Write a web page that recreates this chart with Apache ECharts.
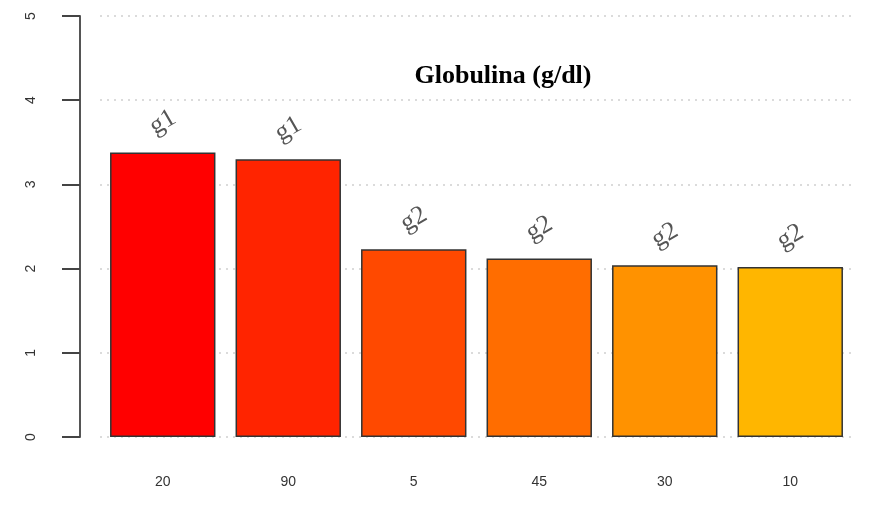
<!DOCTYPE html>
<html>
<head>
<meta charset="utf-8">
<script src="https://cdn.jsdelivr.net/npm/echarts@6/dist/echarts.min.js"></script>
<style>html,body{margin:0;padding:0;background:#fff}#c{width:878px;height:511px}</style>
</head>
<body>
<div id="c"></div>
<script>
var categories = ['20', '90', '5', '45', '30', '10'];
var values = [3.38, 3.30, 2.23, 2.12, 2.04, 2.02];
var groups = ['g1', 'g1', 'g2', 'g2', 'g2', 'g2'];
var barColors = ['#FF0000', '#FF2400', '#FF4900', '#FF6D00', '#FF9200', '#FFB600'];
var yTicks = [0, 1, 2, 3, 4, 5];

var chart = echarts.init(document.getElementById('c'), null, {renderer: 'canvas'});
chart.setOption({
  animation: false,
  backgroundColor: '#ffffff',
  title: {
    text: 'Globulina (g/dl)',
    left: 498,
    top: 58,
    textAlign: 'center',
    textStyle: {fontFamily: 'Liberation Serif', fontWeight: 'bold', fontSize: 26, color: '#000'}
  },
  grid: {left: 100, right: 25, top: 16, bottom: 74},
  xAxis: {
    type: 'category',
    data: categories,
    axisLine: {show: false},
    axisTick: {show: false},
    axisLabel: {margin: 38, fontFamily: 'Liberation Sans', fontSize: 14, color: '#333'}
  },
  yAxis: {
    type: 'value',
    min: yTicks[0],
    max: yTicks[yTicks.length - 1],
    interval: 1,
    offset: 20,
    axisLine: {show: true, lineStyle: {color: '#555', width: 2}},
    axisTick: {show: true, length: 18, lineStyle: {color: '#444', width: 2}},
    axisLabel: {rotate: 90, margin: 42, fontFamily: 'Liberation Sans', fontSize: 14, color: '#333'},
    splitLine: {show: true, lineStyle: {color: '#d0d0d0', type: [2, 5], width: 1.5}}
  },
  series: [{
    type: 'bar',
    barCategoryGap: '16%',
    data: values.map(function (v, i) {
      return {value: v, itemStyle: {color: barColors[i]}, label: {formatter: groups[i]}};
    }),
    itemStyle: {borderColor: '#333', borderWidth: 1.5},
    label: {
      show: true,
      position: 'top',
      distance: 30,
      rotate: 30,
      align: 'center',
      verticalAlign: 'middle',
      fontFamily: 'Liberation Serif',
      fontSize: 26,
      color: '#555'
    }
  }]
});
</script>
</body>
</html>
